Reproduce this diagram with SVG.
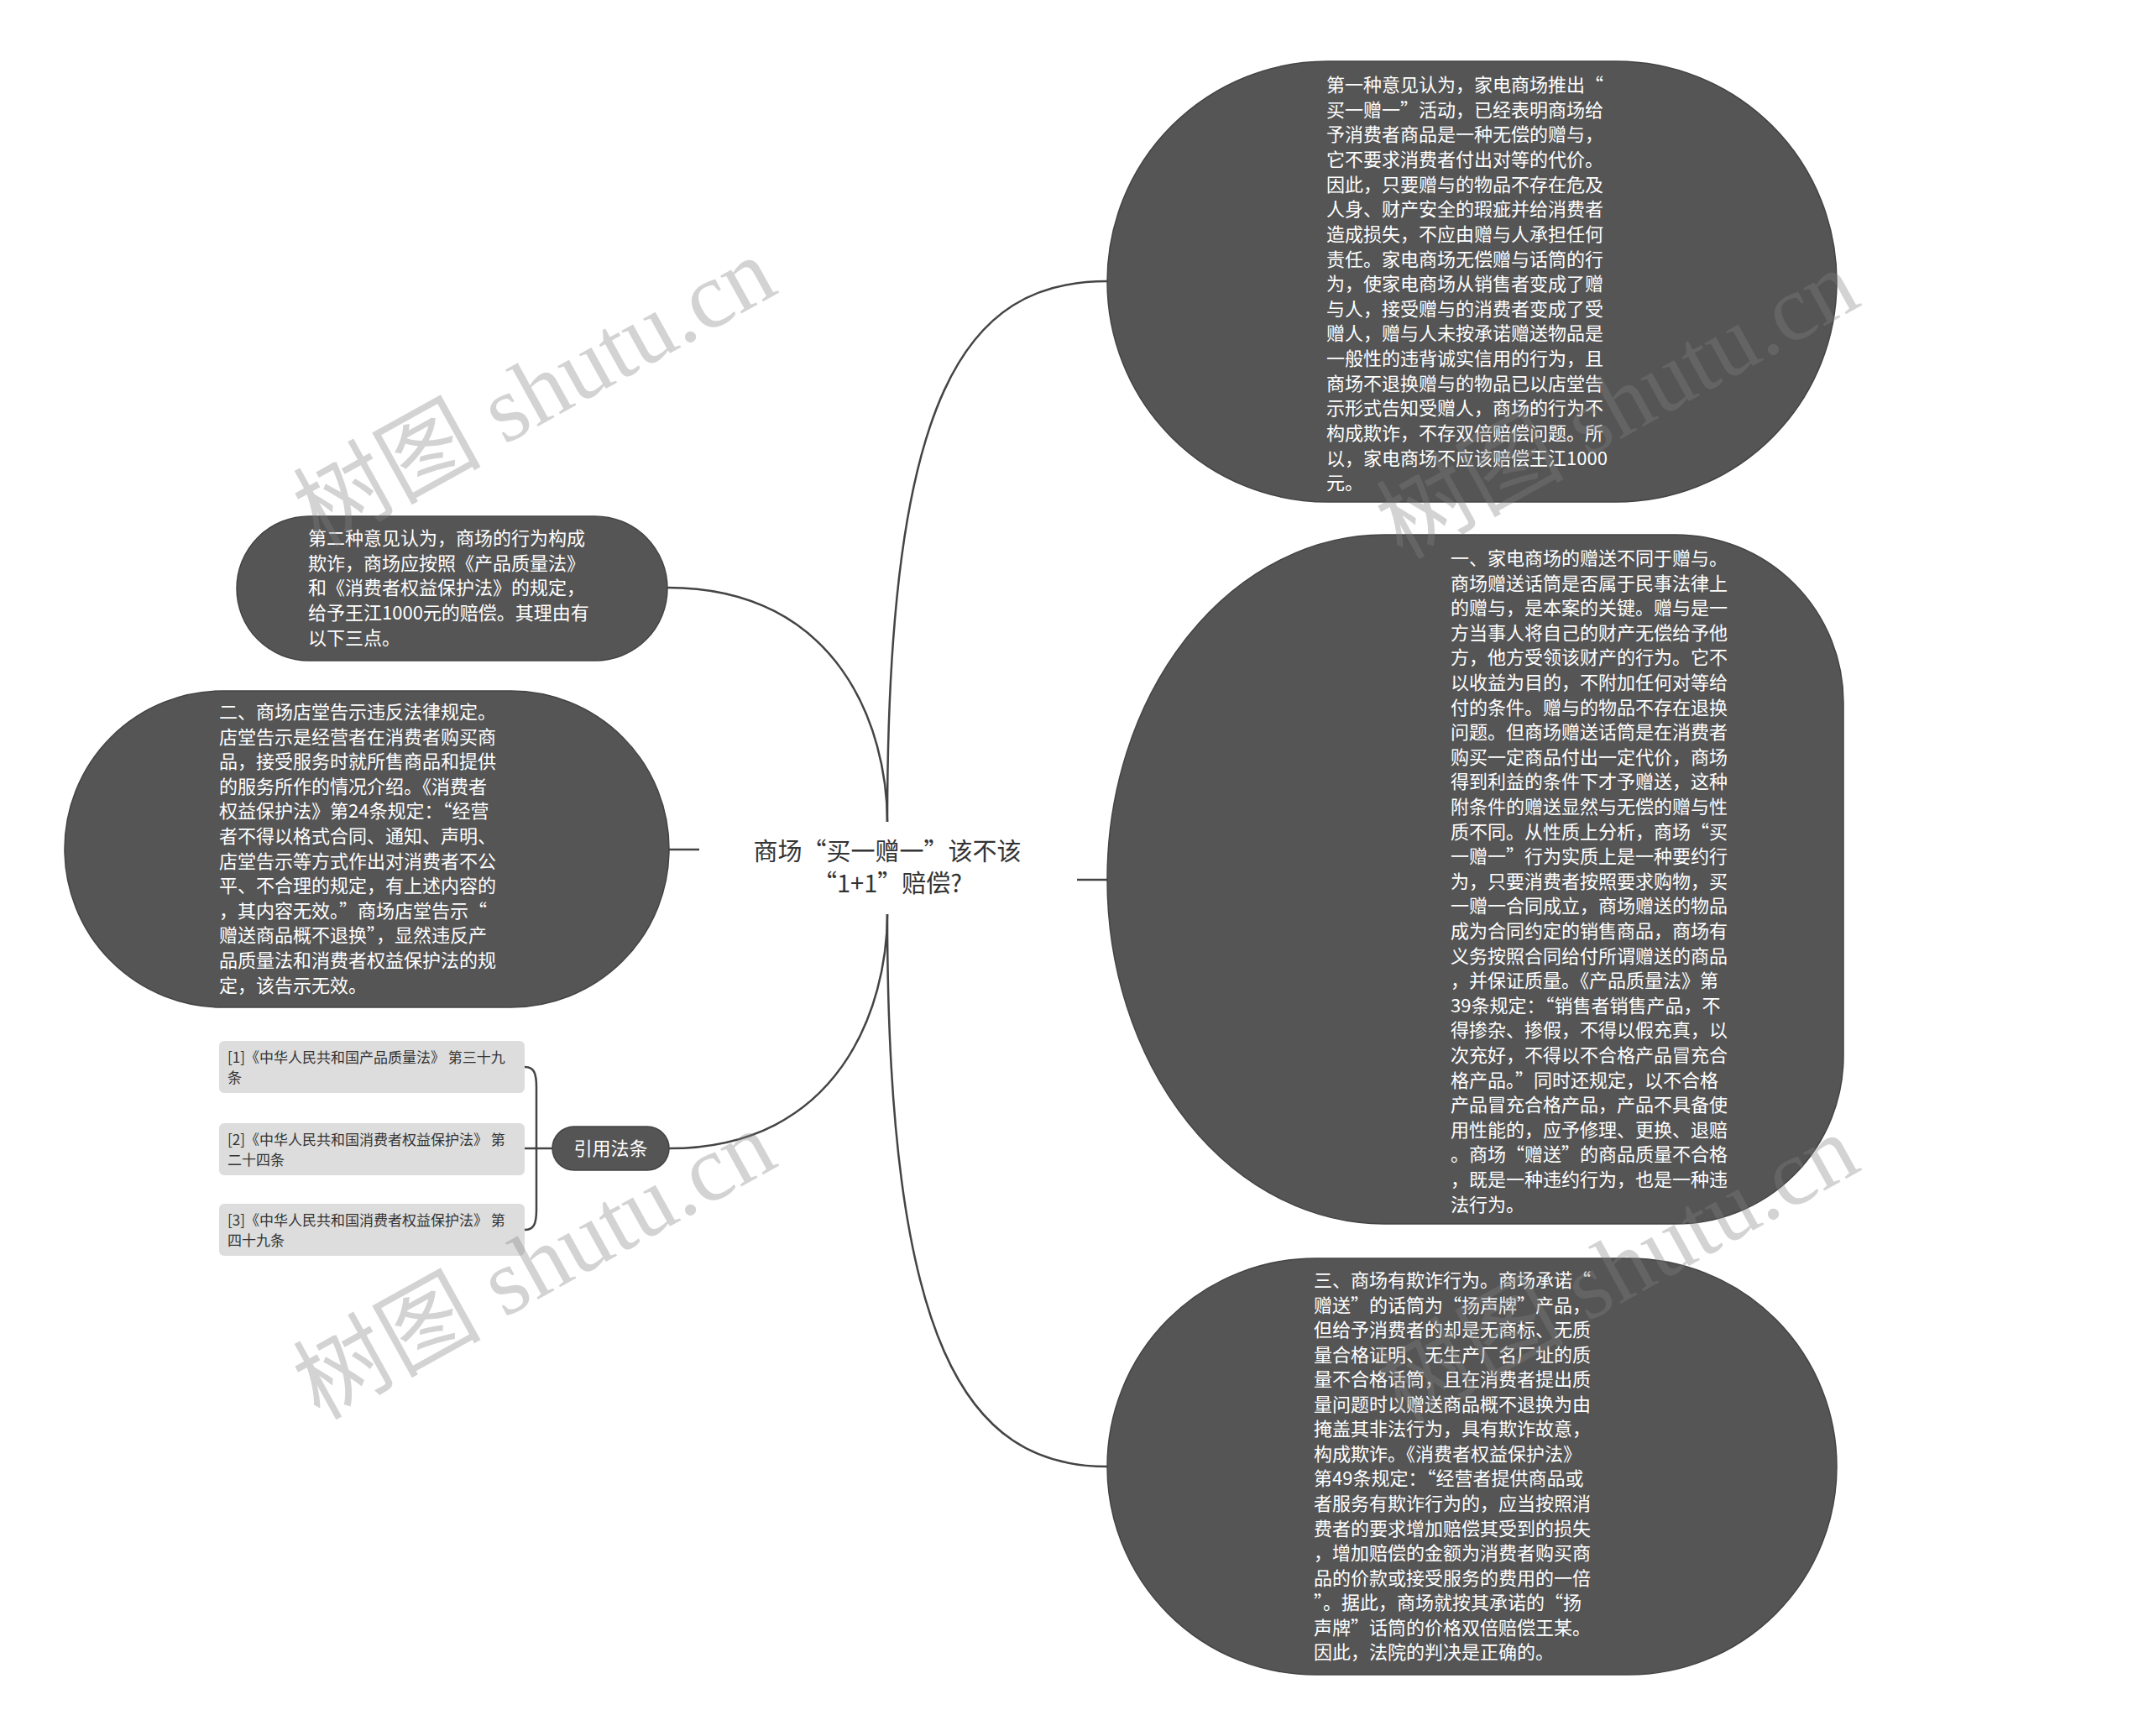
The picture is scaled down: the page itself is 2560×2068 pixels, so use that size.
<svg xmlns="http://www.w3.org/2000/svg" width="2560" height="2068" viewBox="0 0 2560 2068">
<style>
.node{fill:#555555;stroke:#444444;stroke-width:1.5}
.nt{fill:#ffffff;font-family:'Noto Sans CJK SC','Noto Sans',sans-serif;font-size:22px}
.cite{fill:#dddddd}
.ct{fill:#333333;font-family:'Noto Sans CJK SC','Noto Sans',sans-serif;font-size:17px}
.root{fill:#333333;font-family:'Noto Sans CJK SC','Noto Sans',sans-serif;font-size:29px}
.wm{fill:#808080;fill-opacity:0.35;font-family:'Liberation Serif','Noto Sans CJK SC',serif;font-size:112px}
#connectors path{fill:none;stroke:#444444;stroke-width:2.5}
</style>
<rect x="0" y="0" width="2560" height="2068" fill="#ffffff"/>
<g id="connectors">
<path d="M1057,979 C1057,468 1150,335 1319,335"/>
<path d="M1057,979 C1057,868 1000,700 795,700"/>
<path d="M1057,1089 C1057,1200 1000,1368 797,1368"/>
<path d="M1057,1089 C1057,1600 1150,1747 1319,1747"/>
<path d="M1283,1048 L1319,1048"/>
<path d="M797,1012 L833,1012"/>
<path d="M658,1368 L625,1368"/>
<path d="M625,1271 C636,1271 639,1278 639,1295 L639,1441 C639,1458 636,1465 625,1465"/>
</g>
<g id="root">
<text class="root" text-anchor="middle"><tspan x="1057" y="1025">商场“买一赠一”该不该</tspan><tspan x="1057" y="1063">“1+1”赔偿?</tspan></text>
</g>
<g id="node-opinion1">
<rect class="node" x="1319" y="73" width="869" height="525" rx="262.5"/>
<text class="nt"><tspan x="1580" y="109">第一种意见认为，家电商场推出“</tspan><tspan x="1580" dy="29.65">买一赠一”活动，已经表明商场给</tspan><tspan x="1580" dy="29.65">予消费者商品是一种无偿的赠与，</tspan><tspan x="1580" dy="29.65">它不要求消费者付出对等的代价。</tspan><tspan x="1580" dy="29.65">因此，只要赠与的物品不存在危及</tspan><tspan x="1580" dy="29.65">人身、财产安全的瑕疵并给消费者</tspan><tspan x="1580" dy="29.65">造成损失，不应由赠与人承担任何</tspan><tspan x="1580" dy="29.65">责任。家电商场无偿赠与话筒的行</tspan><tspan x="1580" dy="29.65">为，使家电商场从销售者变成了赠</tspan><tspan x="1580" dy="29.65">与人，接受赠与的消费者变成了受</tspan><tspan x="1580" dy="29.65">赠人，赠与人未按承诺赠送物品是</tspan><tspan x="1580" dy="29.65">一般性的违背诚实信用的行为，且</tspan><tspan x="1580" dy="29.65">商场不退换赠与的物品已以店堂告</tspan><tspan x="1580" dy="29.65">示形式告知受赠人，商场的行为不</tspan><tspan x="1580" dy="29.65">构成欺诈，不存双倍赔偿问题。所</tspan><tspan x="1580" dy="29.65">以，家电商场不应该赔偿王江1000</tspan><tspan x="1580" dy="29.65">元。</tspan></text>
</g>
<g id="node-point1">
<path class="node" d="M1649,637 L1996,637 A200,200 0 0 1 2196,837 L2196,1258 A200,200 0 0 1 1996,1458 L1649,1458 A330,410.5 0 0 1 1649,637 Z"/>
<text class="nt"><tspan x="1728" y="673">一、家电商场的赠送不同于赠与。</tspan><tspan x="1728" dy="29.6">商场赠送话筒是否属于民事法律上</tspan><tspan x="1728" dy="29.6">的赠与，是本案的关键。赠与是一</tspan><tspan x="1728" dy="29.6">方当事人将自己的财产无偿给予他</tspan><tspan x="1728" dy="29.6">方，他方受领该财产的行为。它不</tspan><tspan x="1728" dy="29.6">以收益为目的，不附加任何对等给</tspan><tspan x="1728" dy="29.6">付的条件。赠与的物品不存在退换</tspan><tspan x="1728" dy="29.6">问题。但商场赠送话筒是在消费者</tspan><tspan x="1728" dy="29.6">购买一定商品付出一定代价，商场</tspan><tspan x="1728" dy="29.6">得到利益的条件下才予赠送，这种</tspan><tspan x="1728" dy="29.6">附条件的赠送显然与无偿的赠与性</tspan><tspan x="1728" dy="29.6">质不同。从性质上分析，商场“买</tspan><tspan x="1728" dy="29.6">一赠一”行为实质上是一种要约行</tspan><tspan x="1728" dy="29.6">为，只要消费者按照要求购物，买</tspan><tspan x="1728" dy="29.6">一赠一合同成立，商场赠送的物品</tspan><tspan x="1728" dy="29.6">成为合同约定的销售商品，商场有</tspan><tspan x="1728" dy="29.6">义务按照合同给付所谓赠送的商品</tspan><tspan x="1728" dy="29.6">，并保证质量。《产品质量法》第</tspan><tspan x="1728" dy="29.6">39条规定：“销售者销售产品，不</tspan><tspan x="1728" dy="29.6">得掺杂、掺假，不得以假充真，以</tspan><tspan x="1728" dy="29.6">次充好，不得以不合格产品冒充合</tspan><tspan x="1728" dy="29.6">格产品。”同时还规定，以不合格</tspan><tspan x="1728" dy="29.6">产品冒充合格产品，产品不具备使</tspan><tspan x="1728" dy="29.6">用性能的，应予修理、更换、退赔</tspan><tspan x="1728" dy="29.6">。商场“赠送”的商品质量不合格</tspan><tspan x="1728" dy="29.6">，既是一种违约行为，也是一种违</tspan><tspan x="1728" dy="29.6">法行为。</tspan></text>
</g>
<g id="node-point3">
<rect class="node" x="1319" y="1499" width="869" height="496" rx="248"/>
<text class="nt"><tspan x="1565" y="1533">三、商场有欺诈行为。商场承诺“</tspan><tspan x="1565" dy="29.55">赠送”的话筒为“扬声牌”产品，</tspan><tspan x="1565" dy="29.55">但给予消费者的却是无商标、无质</tspan><tspan x="1565" dy="29.55">量合格证明、无生产厂名厂址的质</tspan><tspan x="1565" dy="29.55">量不合格话筒，且在消费者提出质</tspan><tspan x="1565" dy="29.55">量问题时以赠送商品概不退换为由</tspan><tspan x="1565" dy="29.55">掩盖其非法行为，具有欺诈故意，</tspan><tspan x="1565" dy="29.55">构成欺诈。《消费者权益保护法》</tspan><tspan x="1565" dy="29.55">第49条规定：“经营者提供商品或</tspan><tspan x="1565" dy="29.55">者服务有欺诈行为的，应当按照消</tspan><tspan x="1565" dy="29.55">费者的要求增加赔偿其受到的损失</tspan><tspan x="1565" dy="29.55">，增加赔偿的金额为消费者购买商</tspan><tspan x="1565" dy="29.55">品的价款或接受服务的费用的一倍</tspan><tspan x="1565" dy="29.55">”。据此，商场就按其承诺的“扬</tspan><tspan x="1565" dy="29.55">声牌”话筒的价格双倍赔偿王某。</tspan><tspan x="1565" dy="29.55">因此，法院的判决是正确的。</tspan></text>
</g>
<g id="node-opinion2">
<rect class="node" x="282" y="615" width="513" height="172" rx="86"/>
<text class="nt"><tspan x="367" y="649">第二种意见认为，商场的行为构成</tspan><tspan x="367" dy="29.7">欺诈，商场应按照《产品质量法》</tspan><tspan x="367" dy="29.7">和《消费者权益保护法》的规定，</tspan><tspan x="367" dy="29.7">给予王江1000元的赔偿。其理由有</tspan><tspan x="367" dy="29.7">以下三点。</tspan></text>
</g>
<g id="node-point2">
<rect class="node" x="77" y="823" width="720" height="377" rx="188.5"/>
<text class="nt"><tspan x="261" y="856">二、商场店堂告示违反法律规定。</tspan><tspan x="261" dy="29.6">店堂告示是经营者在消费者购买商</tspan><tspan x="261" dy="29.6">品，接受服务时就所售商品和提供</tspan><tspan x="261" dy="29.6">的服务所作的情况介绍。《消费者</tspan><tspan x="261" dy="29.6">权益保护法》第24条规定：“经营</tspan><tspan x="261" dy="29.6">者不得以格式合同、通知、声明、</tspan><tspan x="261" dy="29.6">店堂告示等方式作出对消费者不公</tspan><tspan x="261" dy="29.6">平、不合理的规定，有上述内容的</tspan><tspan x="261" dy="29.6">，其内容无效。”商场店堂告示“</tspan><tspan x="261" dy="29.6">赠送商品概不退换”，显然违反产</tspan><tspan x="261" dy="29.6">品质量法和消费者权益保护法的规</tspan><tspan x="261" dy="29.6">定，该告示无效。</tspan></text>
</g>
<g id="node-cite">
<rect class="node" x="658" y="1342" width="139" height="52" rx="26"/>
<text class="nt" x="727.5" y="1376" text-anchor="middle">引用法条</text>
</g>
<g id="cite-1">
<rect class="cite" x="261" y="1240" width="364" height="62" rx="6"/>
<text class="ct"><tspan x="271" y="1266">[1]《中华人民共和国产品质量法》 第三十九</tspan><tspan x="271" dy="24">条</tspan></text>
</g>
<g id="cite-2">
<rect class="cite" x="261" y="1338" width="364" height="62" rx="6"/>
<text class="ct"><tspan x="271" y="1364">[2]《中华人民共和国消费者权益保护法》 第</tspan><tspan x="271" dy="24">二十四条</tspan></text>
</g>
<g id="cite-3">
<rect class="cite" x="261" y="1434" width="364" height="62" rx="6"/>
<text class="ct"><tspan x="271" y="1460">[3]《中华人民共和国消费者权益保护法》 第</tspan><tspan x="271" dy="24">四十九条</tspan></text>
</g>
<g id="watermarks">
<text class="wm" text-anchor="middle" transform="translate(655,500) rotate(-29)">树图 shutu.cn</text>
<text class="wm" text-anchor="middle" transform="translate(1945,515) rotate(-29)">树图 shutu.cn</text>
<text class="wm" text-anchor="middle" transform="translate(655,1540) rotate(-29)">树图 shutu.cn</text>
<text class="wm" text-anchor="middle" transform="translate(1945,1545) rotate(-29)">树图 shutu.cn</text>
</g>
</svg>
